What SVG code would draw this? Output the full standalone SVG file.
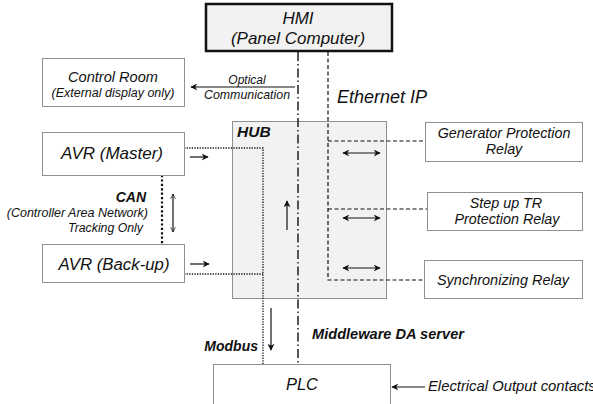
<svg xmlns="http://www.w3.org/2000/svg" width="593" height="404" viewBox="0 0 593 404">
  <style>
    .box { fill: #ffffff; stroke: #8f8f8f; stroke-width: 1; }
    .t { font-family: "Liberation Sans", Arial, sans-serif; font-style: italic; fill: #111; }
    .b { font-weight: bold; }
    .dash { fill: none; stroke: #111; stroke-width: 1.2; stroke-dasharray: 4 2.5; }
    .dot { fill: none; stroke: #111; stroke-width: 1.3; stroke-dasharray: 1.3 1.3; }
    .dotthick { fill: none; stroke: #111; stroke-width: 2.2; stroke-dasharray: 2.2 2.2; }
    .dashdot { fill: none; stroke: #111; stroke-width: 1.4; stroke-dasharray: 9 3 1.5 3; }
    .arr { fill: none; stroke: #111; stroke-width: 1.2; }
  </style>
  <defs>
    <marker id="head" viewBox="0 0 10 10" refX="9" refY="5" markerWidth="7" markerHeight="7" orient="auto-start-reverse" markerUnits="userSpaceOnUse">
      <path d="M0,0 L10,5 L0,10 L3,5 Z" fill="#111"/>
    </marker>
    <marker id="vee" viewBox="0 0 10 10" refX="9" refY="5" markerWidth="6" markerHeight="6" orient="auto-start-reverse" markerUnits="userSpaceOnUse">
      <path d="M1,1 L9,5 L1,9" fill="none" stroke="#111" stroke-width="1.2"/>
    </marker>
  </defs>

  <rect width="593" height="404" fill="#ffffff"/>

  <!-- hub enclosure -->
  <g id="hub">
    <rect x="232.5" y="121.5" width="154" height="177" fill="#f2f2f2" stroke="#8f8f8f"/>
    <text class="t b" x="237" y="137" font-size="15.5">HUB</text>
  </g>

  <!-- connectors -->
  <g id="connectors">
    <!-- HMI to PLC: middleware -->
    <path class="dashdot" d="M298,52 V364"/>
    <!-- Ethernet IP bus -->
    <path class="dash" d="M328,52 V280 H424 M328,141 H425 M328,209 H427"/>
    <!-- AVR to PLC: Modbus -->
    <path class="dot" d="M184,148 H263 V364 M184,274 H263"/>
    <!-- CAN link -->
    <path class="dotthick" d="M162,175 V244"/>

    <!-- direction arrows -->
    <path class="arr" d="M295,87 H191" marker-end="url(#head)"/>
    <path class="arr" d="M190,157 H208" marker-end="url(#head)"/>
    <path class="arr" d="M190,264 H209" marker-end="url(#head)"/>
    <path class="arr" d="M173,194 V232" marker-start="url(#vee)" marker-end="url(#vee)"/>
    <path class="arr" d="M287,230 V201" marker-end="url(#head)"/>
    <path class="arr" d="M343,153 H380" marker-start="url(#head)" marker-end="url(#head)"/>
    <path class="arr" d="M343,218 H380" marker-start="url(#head)" marker-end="url(#head)"/>
    <path class="arr" d="M343,268 H380" marker-start="url(#head)" marker-end="url(#head)"/>
    <path class="arr" d="M271,308 V350" marker-end="url(#head)"/>
    <path class="arr" d="M425,387 H392" marker-end="url(#head)"/>

    <!-- connector labels -->
    <text class="t" x="247" y="84" font-size="12" text-anchor="middle">Optical</text>
    <text class="t" x="247" y="99" font-size="12.4" text-anchor="middle">Communication</text>
    <text class="t" x="337" y="103" font-size="18">Ethernet IP</text>
    <text class="t b" x="146" y="202" font-size="14" text-anchor="end">CAN</text>
    <text class="t" x="148" y="217" font-size="12.5" text-anchor="end">(Controller Area Network)</text>
    <text class="t" x="143" y="232" font-size="12.3" text-anchor="end">Tracking Only</text>
    <text class="t b" x="258" y="351" font-size="14" text-anchor="end">Modbus</text>
    <text class="t b" x="312" y="339" font-size="14.6">Middleware DA server</text>
    <text class="t" x="428" y="391" font-size="14.8">Electrical Output contacts</text>
  </g>

  <g id="hmi">
    <rect x="206" y="4" width="186" height="47" fill="#f2f2f2" stroke="#111" stroke-width="2.5"/>
    <text class="t" x="298" y="24" font-size="17" text-anchor="middle">HMI</text>
    <text class="t" x="298" y="44" font-size="17" text-anchor="middle">(Panel Computer)</text>
  </g>

  <g id="control-room">
    <rect class="box" x="42.5" y="58.5" width="142" height="48"/>
    <text class="t" x="113" y="82" font-size="14.6" text-anchor="middle">Control Room</text>
    <text class="t" x="113" y="97" font-size="12.5" text-anchor="middle">(External display only)</text>
  </g>

  <g id="avr-master">
    <rect class="box" x="42.5" y="132.5" width="142" height="43"/>
    <text class="t" x="112" y="159" font-size="17" text-anchor="middle">AVR (Master)</text>
  </g>

  <g id="avr-backup">
    <rect class="box" x="42.5" y="244.5" width="142" height="38"/>
    <text class="t" x="114" y="270" font-size="16.8" text-anchor="middle">AVR (Back-up)</text>
  </g>

  <g id="generator-relay">
    <rect class="box" x="425.5" y="122.5" width="157" height="39"/>
    <text class="t" x="504" y="138" font-size="14.3" text-anchor="middle">Generator Protection</text>
    <text class="t" x="504" y="154" font-size="14.3" text-anchor="middle">Relay</text>
  </g>

  <g id="stepup-relay">
    <rect class="box" x="427.5" y="192.5" width="155" height="38"/>
    <text class="t" x="506" y="208" font-size="14.3" text-anchor="middle">Step up TR</text>
    <text class="t" x="507" y="224" font-size="14.3" text-anchor="middle">Protection Relay</text>
  </g>

  <g id="sync-relay">
    <rect class="box" x="424.5" y="260.5" width="158" height="38"/>
    <text class="t" x="503" y="285" font-size="14.5" text-anchor="middle">Synchronizing Relay</text>
  </g>

  <g id="plc">
    <rect class="box" x="213.5" y="364.5" width="177" height="50"/>
    <text class="t" x="302" y="390" font-size="16.5" text-anchor="middle">PLC</text>
  </g>
</svg>
